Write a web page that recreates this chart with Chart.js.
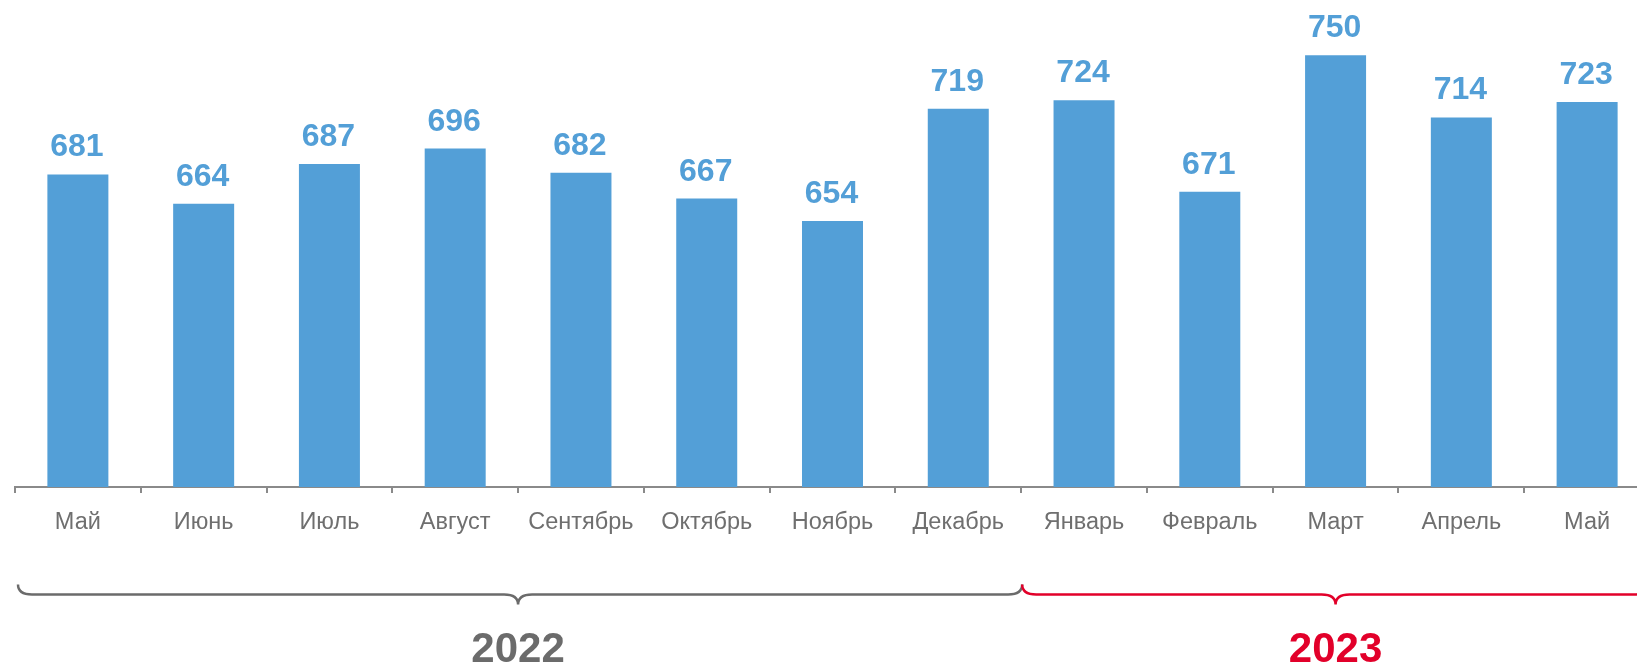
<!DOCTYPE html>
<html>
<head>
<meta charset="utf-8">
<script src="https://cdn.jsdelivr.net/npm/chart.js@4"></script>
<style>
  html, body { margin: 0; padding: 0; background: #fff; overflow: hidden; }
  #wrap { position: absolute; left: 0; top: 0; width: 1650px; height: 666px; }
</style>
</head>
<body>
<div id="wrap"><canvas id="chart" width="1650" height="666"></canvas></div>
<script>
  const months = ['Май', 'Июнь', 'Июль', 'Август', 'Сентябрь', 'Октябрь', 'Ноябрь',
    'Декабрь', 'Январь', 'Февраль', 'Март', 'Апрель', 'Май'];
  const values = [681, 664, 687, 696, 682, 667, 654, 719, 724, 671, 750, 714, 723];
  const yearLabels = ['2022', '2023'];
  const yearSpans = [[0, 8], [8, 13]]; // category index ranges [from, to)
  const yearColors = ['#6b6b6b', '#e2002a'];

  const barColor = '#539fd7';
  const axisColor = '#8a8a8a';

  // value labels above bars
  const valueLabels = {
    id: 'valueLabels',
    afterDatasetsDraw(chart) {
      const ctx = chart.ctx;
      const meta = chart.getDatasetMeta(0);
      ctx.save();
      ctx.font = 'bold 32px "Liberation Sans", Arial, sans-serif';
      ctx.fillStyle = barColor;
      ctx.textAlign = 'center';
      ctx.textBaseline = 'alphabetic';
      meta.data.forEach((bar, i) => {
        ctx.fillText(values[i], bar.x - 1, bar.y - 18);
      });
      ctx.restore();
    }
  };

  // curly braces with year captions under the axis
  const yearBraces = {
    id: 'yearBraces',
    afterDraw(chart) {
      const ctx = chart.ctx;
      const xs = chart.scales.x;
      const step = xs.getPixelForValue(1) - xs.getPixelForValue(0);
      const edge = i => xs.getPixelForValue(0) - step / 2 + i * step;
      const y = 594.5;
      yearSpans.forEach((span, k) => {
        const x1 = edge(span[0]) + (k === 0 ? 3 : 1);
        const x2 = edge(span[1]) + (k === 0 ? 1 : 0);
        const mid = (edge(span[0]) + edge(span[1])) / 2;
        ctx.save();
        ctx.strokeStyle = yearColors[k];
        ctx.lineWidth = 2.5;
        ctx.beginPath();
        ctx.moveTo(x1, y - 10);
        ctx.quadraticCurveTo(x1, y, x1 + 14, y);
        ctx.lineTo(mid - 14, y);
        ctx.quadraticCurveTo(mid, y, mid, y + 10);
        ctx.quadraticCurveTo(mid, y, mid + 14, y);
        ctx.lineTo(x2 - 14, y);
        ctx.quadraticCurveTo(x2, y, x2, y - 10);
        ctx.stroke();
        ctx.font = 'bold 42px "Liberation Sans", Arial, sans-serif';
        ctx.fillStyle = yearColors[k];
        ctx.textAlign = 'center';
        ctx.textBaseline = 'alphabetic';
        ctx.fillText(yearLabels[k], mid, 661.5);
        ctx.restore();
      });
    }
  };

  new Chart(document.getElementById('chart'), {
    type: 'bar',
    data: {
      labels: months,
      datasets: [{
        data: values,
        backgroundColor: barColor,
        borderWidth: 0,
        categoryPercentage: 1,
        barPercentage: 0.485
      }]
    },
    options: {
      responsive: false,
      animation: false,
      layout: { padding: { left: 15, right: 0, top: 0, bottom: 0 } },
      plugins: { legend: { display: false }, tooltip: { enabled: false } },
      scales: {
        x: {
          grid: {
            display: true,
            drawOnChartArea: false,
            drawTicks: true,
            tickLength: 6,
            color: axisColor,
            lineWidth: 2
          },
          border: { display: true, color: axisColor, width: 2 },
          ticks: {
            color: '#6f6f6f',
            padding: 15,
            maxRotation: 0,
            autoSkip: false,
            font: { family: '"Liberation Sans", Arial, sans-serif', size: 23.5 }
          },
          afterFit(scale) { scale.height = 179; }
        },
        y: {
          display: false,
          min: 500,
          max: 782
        }
      }
    },
    plugins: [valueLabels, yearBraces]
  });
</script>
</body>
</html>
